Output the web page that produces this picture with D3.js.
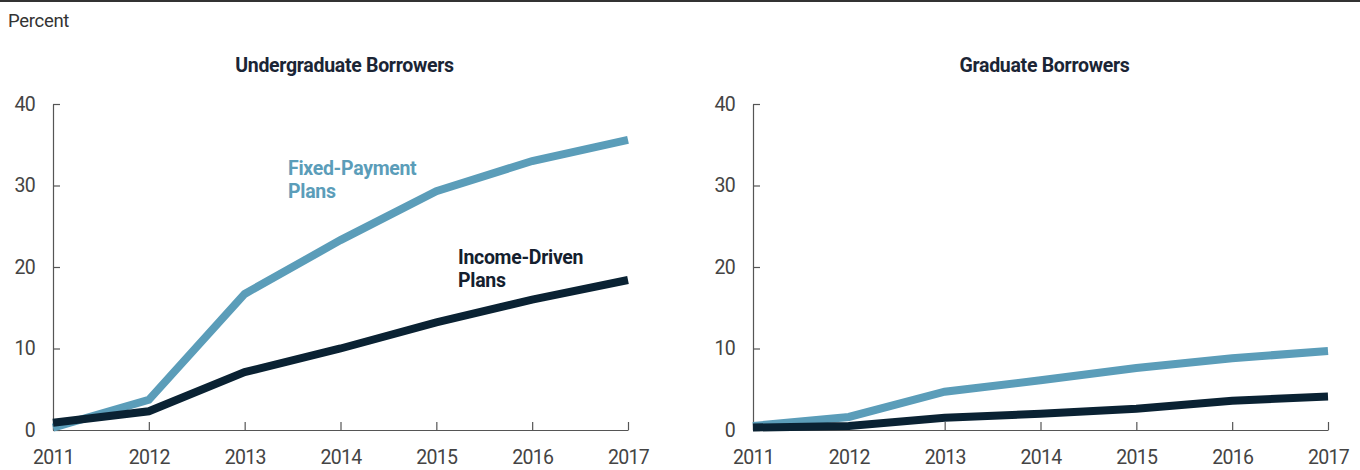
<!DOCTYPE html>
<html>
<head>
  <meta charset="utf-8">
  <script src="https://d3js.org/d3.v7.min.js"></script>
  <style>
    body { margin: 0; background: #fff; }
    text { font-family: Roboto, "Noto Sans", sans-serif; }
  </style>
</head>
<body>
  <div id="chart"></div>
  <script>
    // data
    var years = [2011, 2012, 2013, 2014, 2015, 2016, 2017];
    var yTicks = [0, 10, 20, 30, 40];
    var panelTitles = ["Undergraduate Borrowers", "Graduate Borrowers"];

    var undergradFixed = [0.3, 3.7, 16.7, 23.3, 29.3, 33.0, 35.6];
    var undergradIncome = [0.9, 2.3, 7.1, 10.0, 13.2, 16.0, 18.4];
    var gradFixed = [0.5, 1.6, 4.7, 6.1, 7.6, 8.8, 9.7];
    var gradIncome = [0.3, 0.5, 1.5, 2.0, 2.6, 3.6, 4.1];

    var fixedColor = "#5b9db9",
      incomeColor = "#0a2233",
      axisColor = "#555";

    var W = 1360, H = 470;

    var svg = d3.select("#chart")
      .append("svg")
      .attr("width", W)
      .attr("height", H);

    // top rule
    svg.append("line")
      .attr("x1", 0).attr("x2", W)
      .attr("y1", 1).attr("y2", 1)
      .attr("stroke", "#333").attr("stroke-width", 2);

    svg.append("text")
      .attr("x", 8).attr("y", 27)
      .attr("fill", "#333")
      .style("font-size", "18.5px")
      .style("letter-spacing", "-0.3px")
      .text("Percent");

    var panels = [
      { left: 53, right: 628, title: panelTitles[0], fixed: undergradFixed, income: undergradIncome },
      { left: 753, right: 1328, title: panelTitles[1], fixed: gradFixed, income: gradIncome }
    ];

    var y = d3.scaleLinear()
      .domain([0, 40])
      .range([430, 104]);

    panels.forEach(function (p, i) {
      var x = d3.scaleLinear()
        .domain([2011, 2017])
        .range([p.left, p.right]);

      svg.append("text")
        .attr("x", (p.left + p.right) / 2 + 4)
        .attr("y", 72)
        .attr("text-anchor", "middle")
        .attr("fill", "#1b2535")
        .style("font-size", "19.5px")
        .style("font-weight", "bold")
        .style("letter-spacing", "-0.3px")
        .text(p.title);

      // y axis
      var gy = svg.append("g")
        .attr("transform", "translate(" + p.left + ",0)")
        .call(d3.axisLeft(y).tickValues(yTicks).tickSizeInner(-7).tickSizeOuter(0).tickPadding(18));

      // x axis
      var gx = svg.append("g")
        .attr("transform", "translate(0," + y(0) + ")")
        .call(d3.axisBottom(x).tickValues(years).tickFormat(d3.format("d"))
          .tickSizeInner(-8).tickSizeOuter(0).tickPadding(20));

      [gx, gy].forEach(function (g) {
        g.select(".domain").attr("stroke", axisColor).attr("stroke-width", 1.2);
        g.selectAll(".tick line").attr("stroke", axisColor).attr("stroke-width", 1.2);
        g.selectAll(".tick text")
          .attr("fill", "#444")
          .style("font-size", "19.5px")
          .style("font-family", "Roboto, sans-serif")
          .style("letter-spacing", "-0.7px");
      });

      var line = d3.line()
        .x(function (d, j) { return x(years[j]); })
        .y(function (d) { return y(d); });

      svg.append("path")
        .attr("d", line(p.fixed))
        .attr("fill", "none")
        .attr("stroke", fixedColor)
        .attr("stroke-width", 8)
        .attr("stroke-linejoin", "miter");

      svg.append("path")
        .attr("d", line(p.income))
        .attr("fill", "none")
        .attr("stroke", incomeColor)
        .attr("stroke-width", 8)
        .attr("stroke-linejoin", "miter");
    });

    // series labels (left panel only)
    var fixedLabel = svg.append("text")
      .attr("fill", fixedColor)
      .style("font-size", "19.5px")
      .style("font-weight", "bold")
      .style("letter-spacing", "-0.3px");
    fixedLabel.append("tspan").attr("x", 288).attr("y", 175).text("Fixed-Payment");
    fixedLabel.append("tspan").attr("x", 288).attr("y", 198).text("Plans");

    var incomeLabel = svg.append("text")
      .attr("fill", "#14202e")
      .style("font-size", "19.5px")
      .style("font-weight", "bold")
      .style("letter-spacing", "-0.3px");
    incomeLabel.append("tspan").attr("x", 458).attr("y", 264).text("Income-Driven");
    incomeLabel.append("tspan").attr("x", 458).attr("y", 287).text("Plans");
  </script>
</body>
</html>
